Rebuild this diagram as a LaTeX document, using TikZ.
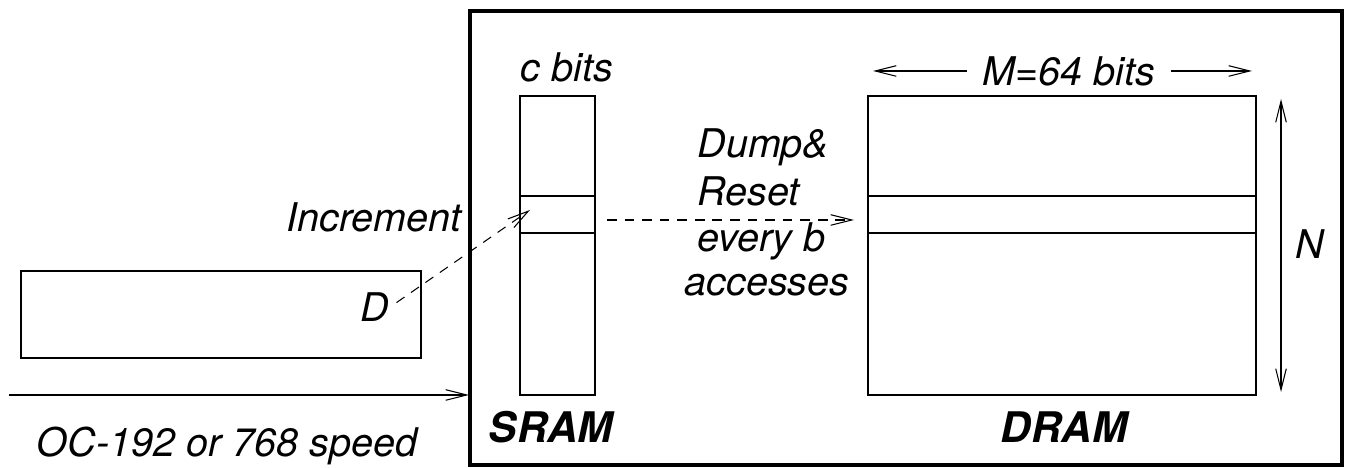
\documentclass[tikz,border=0pt]{standalone}
\usepackage{fontspec}
\setmainfont{TeX Gyre Heros}
\usetikzlibrary{arrows.meta,positioning}
\tikzset{>={Straight Barb[length=12pt,width=6pt]}}
\tikzstyle{lbl} = [font=\fontsize{22.5}{27}\selectfont\itshape, inner sep=0pt]
\tikzstyle{title} = [font=\fontsize{24}{29}\selectfont\bfseries\itshape, inner sep=0pt]
\tikzstyle{dumpline} = [dash pattern=on 5.5pt off 4.5pt]

\begin{document}
\begin{tikzpicture}[line width=0.6pt]
    \useasboundingbox (0,0) rectangle (26.92,9.36);

    % Chip boundary
    \draw[line width=2.5pt] (9.40,0.06) rectangle (26.84,9.14);

    % Line card input and counter
    \draw (0.42,2.20) rectangle (8.42,3.94);
    \coordinate (in) at (0.18,1.46);
    \coordinate (chip) at (9.38,1.46);
    \draw[->] (in) -- (chip);
    \node[lbl, anchor=base] (speed) at (4.54,0.22) {OC-192 or 768 speed};
    \node[lbl, anchor=base] (d) at (7.49,2.92) {D};
    \node[lbl, anchor=base east] (incr) at (9.24,4.72) {Increment};

    % SRAM counters
    \draw (10.40,1.46) rectangle (11.90,7.44);
    \draw (10.40,5.44) -- (11.90,5.44);
    \draw (10.40,4.70) -- (11.90,4.70);
    \node[lbl, anchor=base] (cbits) at (11.34,7.72) {c bits};
    \node[title, anchor=base] (sram) at (11.02,0.50) {SRAM};
    \coordinate (slot) at (10.60,5.16);
    \draw[dumpline, ->, shorten <=5pt] (d.east) -- (slot);

    % DRAM counters
    \draw (17.36,1.46) rectangle (25.12,7.44);
    \draw (17.36,5.44) -- (25.12,5.44);
    \draw (17.36,4.70) -- (25.12,4.70);
    \node[title, anchor=base] (dram) at (21.28,0.50) {DRAM};

    % Width M
    \node[lbl, inner xsep=0.3cm] (mwidth) at (21.38,7.94) {M=64 bits};
    \coordinate (mleft) at (17.46,7.94);
    \coordinate (mright) at (25.04,7.94);
    \draw[->] (mwidth) -- (mleft);
    \draw[->] (mwidth) -- (mright);

    % Depth N
    \coordinate (ntop) at (25.62,7.38);
    \coordinate (nbot) at (25.62,1.52);
    \draw[<->] (ntop) -- (nbot);
    \node[lbl] (ndepth) at (26.20,4.48) {N};

    % Dump and reset
    \coordinate (sout) at (12.14,4.96);
    \coordinate (din) at (17.08,4.96);
    \draw[dumpline, ->] (sout) -- (din);
    \node[lbl, anchor=base west] (dump) at (13.94,6.20) {Dump\&};
    \node[lbl, anchor=base west] (reset) at (13.94,5.24) {Reset};
    \node[lbl, anchor=base] (every) at (15.23,4.32) {every b};
    \node[lbl, anchor=base] (acc) at (15.34,3.44) {accesses};
\end{tikzpicture}
\end{document}
